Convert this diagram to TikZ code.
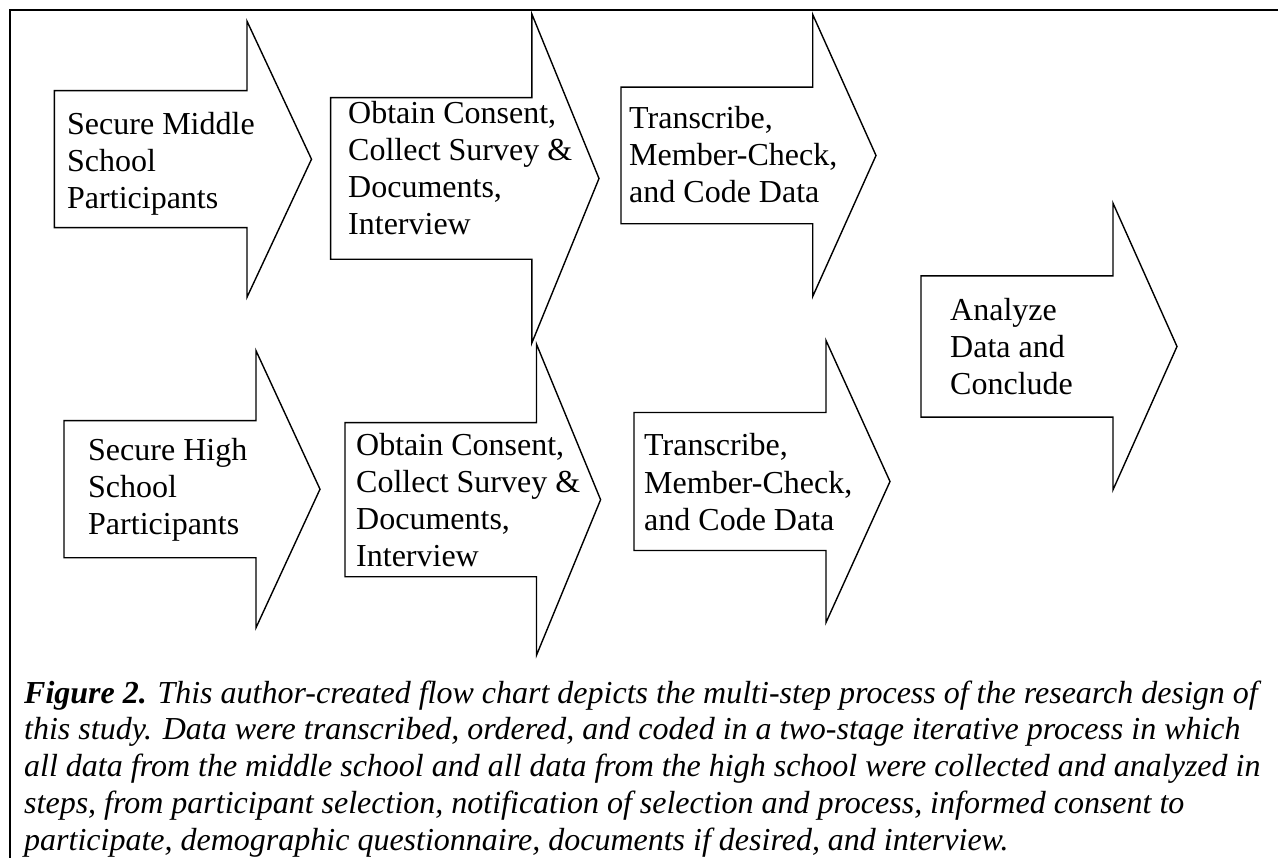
\documentclass[tikz,border=0pt]{standalone}
\usepackage{fontspec}
\setmainfont{Liberation Serif}
\usetikzlibrary{positioning}

\begin{document}
\begin{tikzpicture}[x=1pt,y=-1pt,
    steparrow/.style={draw=black,line width=1.4pt,line join=miter,fill=white},
    steptext/.style={anchor=base west,align=left,inner sep=0pt,font=\fontsize{32}{37}\selectfont},
    captext/.style={anchor=base west,align=left,inner sep=0pt,font=\itshape\fontsize{32}{36.7}\selectfont}]
  \useasboundingbox (0,0) rectangle (1278,858);

  % frame
  \draw[line width=2pt] (10,858) -- (10,10) -- (1278,10);

  % arrows: left / centre / shaft half / head x / head half / tip
  \foreach \xl/\yc/\sh/\xh/\hh/\xt in {
    54.3/159.2/68.5/247/138/311.5,
    330.6/178.5/80.8/531.8/164.6/599,
    621/155.5/68.3/812.7/141/876,
    921/346.5/70.6/1113/143.3/1177,
    64/489.2/68.5/256/138.5/320,
    345/499.7/77/536.5/155.5/600.6,
    634/481.5/69/826/141/890
  } {
    \draw[steparrow] (\xl,{\yc-\sh}) -- (\xh,{\yc-\sh}) -- (\xh,{\yc-\hh})
      -- (\xt,\yc) -- (\xh,{\yc+\hh}) -- (\xh,{\yc+\sh}) -- (\xl,{\yc+\sh}) -- cycle;
  }

  % texts, placed at the baseline of their last line
  \node[steptext] (secms) at (67,209) {Secure Middle\\School\\Participants};
  \node[steptext] (obtms) at (348,235) {Obtain Consent,\\Collect Survey \&\\Documents,\\Interview};
  \node[steptext] (trams) at (629,203) {Transcribe,\\Member-Check,\\and Code Data};
  \node[steptext] (analyze) at (950,395) {Analyze\\Data and\\Conclude};
  \node[steptext] (sechs) at (88,535) {Secure High\\School\\Participants};
  \node[steptext] (obths) at (356,566) {Obtain Consent,\\Collect Survey \&\\Documents,\\Interview};
  \node[steptext] (trahs) at (644,530) {Transcribe,\\Member-Check,\\and Code Data};

  \node[captext] (caption) at (24,850)
    {\textbf{Figure 2.} This author-created flow chart depicts the multi-step process of the research design of\\
     this study. Data were transcribed, ordered, and coded in a two-stage iterative process in which\\
     all data from the middle school and all data from the high school were collected and analyzed in\\
     steps, from participant selection, notification of selection and process, informed consent to\\
     participate, demographic questionnaire, documents if desired, and interview.};
\end{tikzpicture}
\end{document}
